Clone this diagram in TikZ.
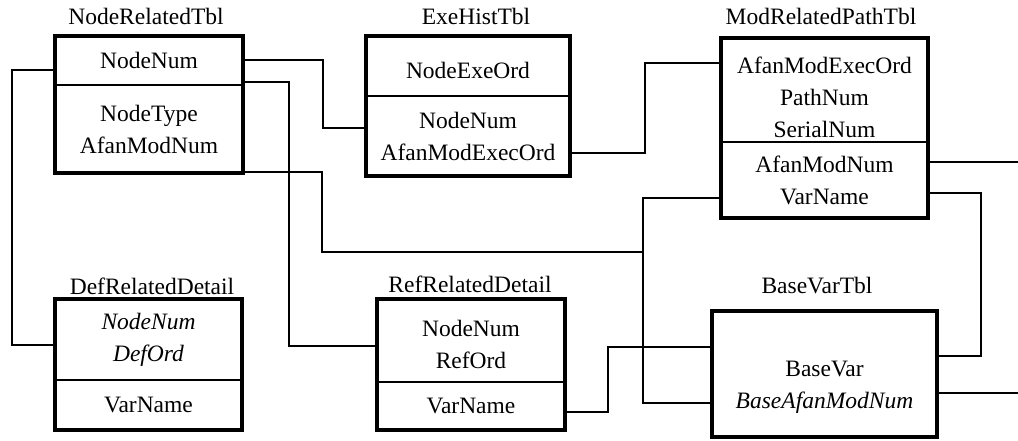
\documentclass[tikz,border=0pt]{standalone}
\usepackage{fontspec}
\setmainfont{Liberation Serif}
\usetikzlibrary{positioning}

\tikzset{
  fld/.style={draw, line width=1.5pt, inner sep=0pt, outer sep=0pt, align=center,
    font=\fontsize{23.5}{32}\selectfont},
  tblname/.style={anchor=base, inner sep=0pt, font=\fontsize{23.5}{28}\selectfont},
  frame/.style={line width=4.5pt},
  link/.style={line width=2pt},
}

\begin{document}
\begin{tikzpicture}[x=1pt, y=-1pt]
\useasboundingbox (0,0) rectangle (1018,441); %picture size
%
\node[fld, minimum width=188pt, minimum height=49pt] (nrtKey) at (149,60.5) {NodeNum};
\node[fld, minimum width=188pt, minimum height=88pt, below=0pt of nrtKey] (nrtAttr) {NodeType\\AfanModNum};
\node[tblname] at (146,25) {NodeRelatedTbl};
%
\node[fld, minimum width=204pt, minimum height=60pt] (ehtKey) at (468,66) {\rule{0pt}{26pt}NodeExeOrd};
\node[fld, minimum width=204pt, minimum height=80pt, below=0pt of ehtKey] (ehtAttr) {NodeNum\\AfanModExecOrd};
\node[tblname] at (476,25) {ExeHistTbl};
%
\node[fld, minimum width=207pt, minimum height=104pt] (mrpKey) at (824.5,90) {\rule{0pt}{32pt}AfanModExecOrd\\PathNum\\SerialNum};
\node[fld, minimum width=207pt, minimum height=76pt, below=0pt of mrpKey] (mrpAttr) {AfanModNum\\VarName};
\node[tblname] at (821,25) {ModRelatedPathTbl};
%
\node[fld, minimum width=187pt, minimum height=81pt] (drdKey) at (148.5,339.5) {\itshape NodeNum\\\itshape DefOrd};
\node[fld, minimum width=187pt, minimum height=50pt, below=0pt of drdKey] (drdAttr) {VarName};
\node[tblname] at (152,294) {DefRelatedDetail};
%
\node[fld, minimum width=188pt, minimum height=83pt] (rrdKey) at (471,340.5) {\rule{0pt}{24pt}NodeNum\\RefOrd};
\node[fld, minimum width=188pt, minimum height=48pt, below=0pt of rrdKey] (rrdAttr) {VarName};
\node[tblname] at (470,292) {RefRelatedDetail};
%
\node[fld, minimum width=225pt, minimum height=126pt] (bvt) at (824.5,374) {\rule{0pt}{42pt}BaseVar\\\itshape BaseAfanModNum};
\node[tblname] at (817,293) {BaseVarTbl};
%
\coordinate (jct) at (643,252);
\coordinate (outA) at (1018,162);
\coordinate (outB) at (1018,393);
%
\draw[link] ([yshift=-9.5pt]nrtKey.west) -- ++(-43,0) |- ([yshift=-5.5pt]drdKey.west);
\draw[link] (nrtKey.east) -- ++(80,0) |- ([yshift=8pt]ehtAttr.west);
\draw[link] ([yshift=-21.5pt]nrtKey.east) -- ++(46,0) |- ([yshift=-5.5pt]rrdKey.west);
\draw[link] ([yshift=1pt]nrtAttr.south east) -- ++(79,0) |- (jct);
\draw[link] ([yshift=-17pt]ehtAttr.east) -- ++(75,0) |- ([yshift=27pt]mrpKey.west);
\draw[link] ([yshift=-18pt]mrpAttr.west) -- ++(-78,0) |- ([yshift=-29pt]bvt.west);
\draw[link] ([yshift=-6pt]rrdAttr.east) -- ++(43,0) |- ([yshift=27pt]bvt.west);
\draw[link] ([yshift=18pt]mrpAttr.east) -- (outA);
\draw[link] ([yshift=-13pt]mrpAttr.east) -- ++(53,0) |- ([yshift=18pt]bvt.east);
\draw[link] ([yshift=-19pt]bvt.east) -- (outB);
%
\draw[frame] (nrtKey.north west) rectangle (nrtAttr.south east);
\draw[frame] (ehtKey.north west) rectangle (ehtAttr.south east);
\draw[frame] (mrpKey.north west) rectangle (mrpAttr.south east);
\draw[frame] (drdKey.north west) rectangle (drdAttr.south east);
\draw[frame] (rrdKey.north west) rectangle (rrdAttr.south east);
\draw[frame] (bvt.north west) rectangle (bvt.south east);
\end{tikzpicture}
\end{document}
